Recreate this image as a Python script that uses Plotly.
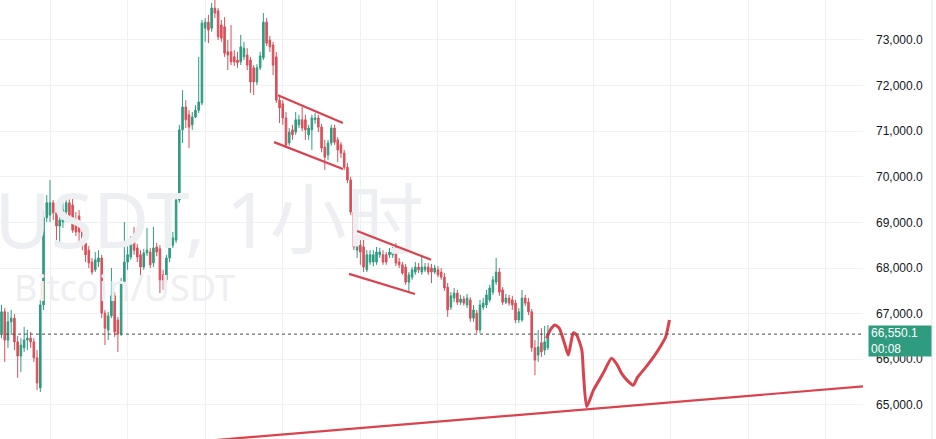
import plotly.graph_objects as go

# ---------------- data (BTC/USDT, 1h candles) ----------------
hours = list(range(170))

opens = [66570, 67040, 66420, 66820, 66900, 66380, 66070, 66250, 66420, 66460,
         66380, 66030, 65370, 67190, 69100, 69160, 69430, 69210, 68920, 69010,
         69230, 69430, 69380, 69050, 69140, 68790, 68550, 68390, 68130, 67960,
         68130, 68220, 67010, 66640, 66950, 67390, 66860, 66570, 67690, 68130,
         68240, 68610, 68440, 68290, 68020, 68330, 68350, 68110, 68460, 68420,
         67850, 67740, 68220, 68500, 68610, 69490, 71030, 71530, 71360, 71140,
         71310, 71460, 71620, 73260, 73390, 73260, 73700, 73640, 73330, 73290,
         72740, 72740, 72630, 72560, 72520, 72630, 72670, 72560, 72390, 72080,
         72390, 72610, 73390, 73000, 72890, 72630, 71680, 71600, 71290, 70740,
         71030, 70980, 71140, 71250, 71250, 70920, 71030, 71250, 71290, 71090,
         70650, 70480, 70740, 71070, 70810, 70700, 70520, 70210, 69930, 69230,
         68390, 68500, 68460, 67960, 68130, 68130, 68130, 68290, 68290, 68290,
         68290, 68290, 68350, 68130, 68070, 68020, 67690, 67800, 67910, 68020,
         67910, 67960, 68020, 68000, 67910, 67960, 67910, 67800, 67580, 67140,
         67340, 67450, 67250, 67320, 67190, 67300, 66900, 67010, 66640, 67140,
         67190, 67300, 67470, 67690, 67910, 67520, 67250, 67340, 67300, 67230,
         66860, 66860, 67340, 67250, 67040, 66250, 66090, 66360, 66200, 66250]

highs = [67190, 67120, 67040, 67080, 66990, 66510, 66460, 66710, 66640, 66600,
         66460, 66200, 67300, 69270, 69600, 69930, 69490, 69380, 69210, 69430,
         69530, 69510, 69530, 69230, 69270, 68880, 68610, 68480, 68220, 68350,
         68390, 68290, 67080, 67040, 68000, 67470, 66930, 67780, 69010, 68610,
         68700, 68900, 68530, 68390, 68420, 68880, 68440, 68900, 68550, 68500,
         67960, 68290, 68680, 68790, 69600, 71140, 71900, 71680, 71460, 71420,
         71570, 72630, 73440, 73480, 73550, 73810, 73920, 73700, 73440, 73500,
         73000, 73330, 72780, 72740, 73110, 72960, 72820, 72630, 72450, 72470,
         72740, 73590, 73480, 73090, 72960, 72740, 71790, 71680, 71420, 71070,
         71140, 71420, 71360, 71530, 71360, 71140, 71360, 71400, 71360, 71160,
         70810, 70810, 71140, 71140, 70870, 70760, 70590, 70300, 70000, 69320,
         68720, 68610, 68660, 68390, 68390, 68390, 68460, 68440, 68390, 68350,
         68440, 68460, 68550, 68220, 68130, 68090, 67910, 68020, 68130, 68110,
         68240, 68110, 68110, 68090, 68070, 68040, 68000, 67890, 67670, 67470,
         67560, 67520, 67410, 67390, 67430, 67360, 67190, 67080, 67300, 67340,
         67520, 67630, 67820, 68220, 68000, 67580, 67430, 67410, 67390, 67300,
         67120, 67520, 67410, 67340, 67100, 66420, 66640, 66680, 66730, 66750]

lows = [66460, 65940, 66250, 66530, 66200, 65590, 65720, 66160, 66200, 66250,
        65940, 65320, 65280, 67080, 69010, 69010, 69050, 68610, 68500, 68880,
        69010, 69100, 68770, 68700, 68570, 68390, 68130, 68000, 67850, 67910,
        68020, 66900, 66310, 66420, 66900, 66490, 66160, 66510, 67630, 67960,
        68180, 68290, 68130, 67800, 67960, 68260, 68000, 68020, 68260, 67450,
        67520, 67670, 68130, 68440, 68550, 69430, 70740, 71070, 70630, 71030,
        71290, 71400, 71570, 72960, 72930, 73180, 73480, 73000, 72960, 72630,
        72340, 72450, 72430, 72390, 72450, 72560, 72340, 71840, 71790, 72010,
        72340, 72560, 72870, 72740, 72230, 71620, 71180, 71140, 70630, 70680,
        70810, 70920, 71070, 71000, 70810, 70810, 70590, 71160, 70980, 70540,
        70150, 70370, 70680, 70700, 70320, 70410, 70150, 69860, 69160, 68390,
        68220, 68070, 67910, 67910, 68070, 68040, 68070, 68220, 68070, 68070,
        68220, 68220, 68040, 68000, 67850, 67630, 67470, 67740, 67850, 67890,
        67850, 67910, 67850, 67670, 67870, 67800, 67740, 67500, 66930, 67080,
        67250, 67190, 67190, 67170, 67120, 66820, 66820, 66570, 66570, 67080,
        67120, 67250, 67410, 67630, 67390, 67190, 67210, 67170, 67080, 66790,
        66790, 66820, 67170, 66970, 66160, 65650, 65940, 66050, 66090, 66200]

closes = [67040, 66420, 66820, 66900, 66380, 66070, 66310, 66420, 66460, 66380,
          66030, 65480, 67190, 69100, 69430, 69430, 69210, 68920, 69050, 69270,
          69430, 69160, 68830, 68790, 68790, 68500, 68290, 68110, 67910, 68180,
          68220, 67010, 66680, 66950, 67390, 66600, 66550, 67690, 68130, 68290,
          68590, 68390, 68240, 68020, 68330, 68390, 68070, 68440, 68350, 67740,
          67740, 68220, 68500, 68660, 69490, 71030, 71530, 71250, 71090, 71310,
          71460, 71640, 73370, 73390, 73220, 73700, 73590, 73070, 73040, 72710,
          72670, 72520, 72520, 72500, 72850, 72820, 72450, 72080, 72080, 72390,
          72650, 73390, 72930, 72850, 72450, 71680, 71510, 71290, 70700, 70980,
          70920, 71250, 71250, 71070, 71030, 71070, 71290, 71290, 71090, 70630,
          70430, 70740, 71070, 70760, 70590, 70520, 70210, 69930, 69230, 68460,
          68500, 68350, 68020, 68290, 68290, 68290, 68350, 68350, 68130, 68130,
          68350, 68350, 68110, 68070, 67890, 67690, 67850, 67960, 68020, 67960,
          68020, 68020, 67910, 67910, 68000, 67850, 67800, 67560, 67080, 67390,
          67450, 67250, 67320, 67230, 67340, 66900, 67080, 66640, 67190, 67230,
          67410, 67560, 67740, 67910, 67470, 67250, 67340, 67230, 67190, 66860,
          67040, 67340, 67230, 67040, 66250, 65980, 66270, 66160, 66380, 66550.1]

last_price = 66550.1
countdown = "00:08"
price_ticks = [65000, 66000, 67000, 68000, 69000, 70000, 71000, 72000, 73000]

# hand-drawn annotations (x in candle index, y in price)
chan1_upper_x, chan1_upper_y = [85.5, 105.6], [71790, 71180]
chan1_lower_x, chan1_lower_y = [84.3, 105.6], [70760, 70170]
chan2_upper_x, chan2_upper_y = [110.0, 132.9], [68810, 68180]
chan2_lower_x, chan2_lower_y = [107.5, 127.9], [67870, 67430]
trend_x, trend_y = [60.0, 267.4], [64190, 65410]
squiggle_x = [168.6, 169.9, 171.2, 172.5, 174.0, 175.3, 176.1, 176.9, 177.9, 179.5,
              180.0, 181.0, 183.1, 186.1, 188.7, 190.3, 191.8, 193.6, 195.4, 196.7,
              199.0, 201.6, 203.9, 205.4, 206.6]
squiggle_y = [66460, 66660, 66750, 66680, 66380, 66090, 66350, 66580, 66530, 66200,
              65690, 64960, 65320, 65690, 66020, 65890, 65690, 65530, 65430, 65600,
              65800, 66040, 66290, 66480, 66860]

watermark_main = "USDT, 1小时"
watermark_sub = "Bitcoin/USDT"

# ---------------- styling ----------------
UP = "#2f9c80"
DOWN = "#d9505a"
PEN = "#d9434e"
GRID = "#eef0f4"
WM = "#edeff2"

fig = go.Figure()

# watermark (as text traces so they sit under candles)
fig.add_trace(go.Scatter(x=[-2.2], y=[68850], mode="text", text=[watermark_main],
                         textposition="middle right",
                         textfont=dict(family="Noto Sans, Noto Sans CJK SC", size=77, color=WM),
                         hoverinfo="skip", cliponaxis=True))
fig.add_trace(go.Scatter(x=[3.9], y=[67470], mode="text", text=[watermark_sub],
                         textposition="middle right",
                         textfont=dict(family="Noto Sans", size=36, color=WM),
                         hoverinfo="skip", cliponaxis=True))

fig.add_trace(go.Candlestick(
    x=hours, open=opens, high=highs, low=lows, close=closes,
    increasing=dict(line=dict(color=UP, width=1), fillcolor=UP),
    decreasing=dict(line=dict(color=DOWN, width=1), fillcolor=DOWN),
    whiskerwidth=0, hoverinfo="skip"))

for xs, ys in [(chan1_upper_x, chan1_upper_y), (chan1_lower_x, chan1_lower_y),
               (chan2_upper_x, chan2_upper_y), (chan2_lower_x, chan2_lower_y),
               (trend_x, trend_y)]:
    fig.add_trace(go.Scatter(x=xs, y=ys, mode="lines", line=dict(color=PEN, width=2.2),
                             hoverinfo="skip"))
fig.add_trace(go.Scatter(x=squiggle_x, y=squiggle_y, mode="lines",
                         line=dict(color=PEN, width=3, shape="spline", smoothing=0.6),
                         hoverinfo="skip"))

# last price dotted line
fig.add_shape(type="line", xref="paper", x0=0, x1=1, yref="y", y0=last_price, y1=last_price,
              line=dict(color="#4a4a4a", width=1, dash="dot"), layer="above")
# right border of price scale
fig.add_shape(type="line", xref="paper", x0=1.0799, x1=1.0799, yref="paper", y0=0, y1=1,
              line=dict(color="#e3e5ea", width=1))

# last price label
fig.add_annotation(xref="paper", x=1, xanchor="left", xshift=5,
                   yref="y", y=last_price, yanchor="middle", yshift=-7,
                   text=f"{last_price:,.1f}<br>{countdown}", align="left",
                   font=dict(family="Liberation Sans, Arial", size=12, color="white"),
                   bgcolor=UP, borderpad=2, width=58, height=26, showarrow=False)

fig.update_layout(
    width=936, height=439,
    margin=dict(l=0, r=73, t=0, b=0),
    paper_bgcolor="white", plot_bgcolor="white",
    showlegend=False, hovermode=False,
    xaxis=dict(range=[-0.464, 266.47], showticklabels=False, showgrid=True,
               gridcolor=GRID, gridwidth=1, tick0=15, dtick=24, zeroline=False,
               showline=False, rangeslider=dict(visible=False), fixedrange=True),
    yaxis=dict(range=[64250, 73877], side="right", tickvals=price_ticks,
               tickformat=",.1f", showgrid=True, gridcolor=GRID, gridwidth=1,
               zeroline=False, showline=False, ticks="", ticklabelstandoff=12,
               tickfont=dict(family="Liberation Sans, Arial", size=12, color="#131722"),
               fixedrange=True),
)

fig.write_html("out.html", config={"displayModeBar": False},
               post_script="document.body.style.margin='0px';")
